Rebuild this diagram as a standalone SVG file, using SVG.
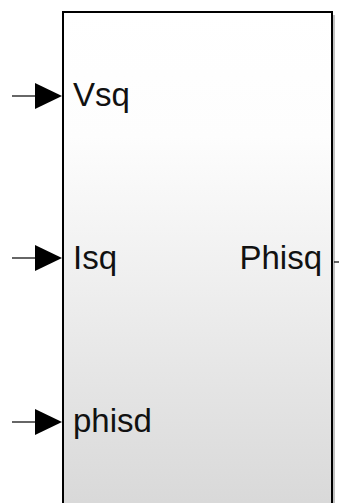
<svg xmlns="http://www.w3.org/2000/svg" width="339" height="503" viewBox="0 0 339 503">
  <style>
    .sig { stroke: #000; stroke-width: 1.2; fill: none; }
    .head { fill: #000; }
    .port { font-family: "Liberation Sans", Arial, sans-serif; font-size: 33px; fill: #111; }
  </style>
  <defs>
    <linearGradient id="blockFill" x1="0" y1="0" x2="0" y2="1">
      <stop offset="0" stop-color="#ffffff"/>
      <stop offset="0.25" stop-color="#fdfdfd"/>
      <stop offset="1" stop-color="#d8d8d8"/>
    </linearGradient>
  </defs>

  <rect width="339" height="503" fill="#ffffff"/>

  <!-- subsystem block -->
  <g id="block">
    <rect x="65" y="15" width="270" height="500" fill="#9a9a9a" opacity="0.6"/>
    <rect x="63" y="12" width="269" height="500" fill="url(#blockFill)" stroke="#000" stroke-width="2"/>
    <text class="port" x="73" y="106">Vsq</text>
    <text class="port" x="73" y="269">Isq</text>
    <text class="port" x="73" y="432">phisd</text>
    <text class="port" x="322" y="269" text-anchor="end">Phisq</text>
  </g>

  <!-- signal lines into and out of the block -->
  <g id="connectors">
    <line class="sig" x1="12" y1="96" x2="36" y2="96"/>
    <polygon class="head" points="35,83 62,96 35,109"/>
    <line class="sig" x1="12" y1="258" x2="36" y2="258"/>
    <polygon class="head" points="35,245 62,258 35,271"/>
    <line class="sig" x1="12" y1="422" x2="36" y2="422"/>
    <polygon class="head" points="35,409 62,422 35,435"/>
    <line class="sig" x1="334" y1="262" x2="339" y2="262"/>
  </g>
</svg>
